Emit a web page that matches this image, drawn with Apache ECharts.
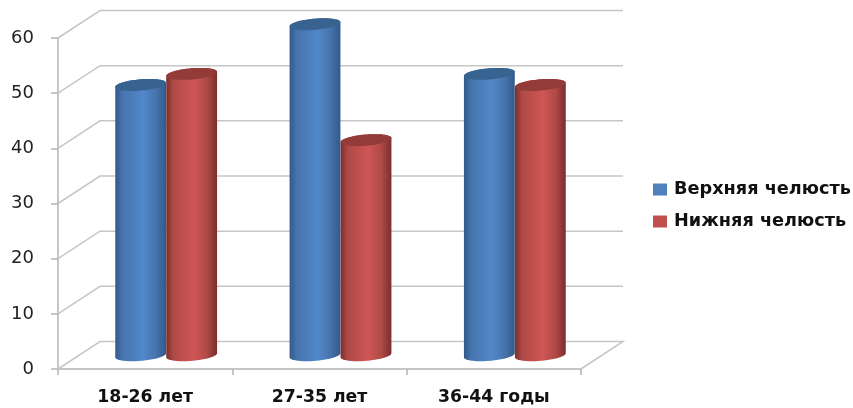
<!DOCTYPE html>
<html><head><meta charset="utf-8">
<style>html,body{margin:0;padding:0;background:#fff}#c{width:853px;height:408px}</style>
<script src="https://cdn.jsdelivr.net/npm/echarts@6/dist/echarts.min.js"></script>
</head><body><div id="c"></div>
<script>
const categories = ['18-26 лет', '27-35 лет', '36-44 годы'];
const upperJaw = [49, 60, 51];
const lowerJaw = [51, 39, 49];
const yTicks = [0, 10, 20, 30, 40, 50, 60];
const seriesNames = ['Верхняя челюсть', 'Нижняя челюсть'];

// 3D look
const DX = 42, DY = 27.5, HALF = 25.5, MINOR = 5.6, TILT = 4.8 * Math.PI / 180, STEPS = 48;

function wallItem(params, api) {
  const v = api.value(1);
  const cs = params.coordSys;
  const y = api.coord([0, v])[1];
  const x0 = cs.x, x1 = cs.x + cs.width;
  const pts = [[x0, y], [x0 + DX, y - DY], [x1 + DX, y - DY]];
  if (v === 0) pts.push([x1, y]);
  return {
    type: 'polyline',
    shape: { points: pts },
    style: { stroke: '#c6c6c6', lineWidth: 1.5, fill: 'none' },
    silent: true
  };
}

// point on the tilted ellipse rim; angle 0 = right, PI = left, PI/2 = front (lower on screen)
function rim(cx, cy, a) {
  const ex = HALF * Math.cos(a), ey = MINOR * Math.sin(a);
  return [cx + ex * Math.cos(TILT) + ey * Math.sin(TILT), cy - ex * Math.sin(TILT) + ey * Math.cos(TILT)];
}

function cylinderItem(side, colors) {
  return function (params, api) {
    const i = api.value(0), v = api.value(1);
    const top = api.coord([i, v]), base = api.coord([i, 0]);
    const cx = top[0] + DX / 2 + side * HALF;
    const ty = top[1] - DY / 2, by = base[1] - DY / 2;
    const body = [], cap = [];
    for (let k = 0; k <= STEPS; k++) body.push(rim(cx, by, Math.PI * k / STEPS));
    for (let k = 0; k <= STEPS; k++) body.push(rim(cx, ty, Math.PI + Math.PI * k / STEPS));
    for (let k = 0; k < 2 * STEPS; k++) cap.push(rim(cx, ty, Math.PI * k / STEPS));
    return {
      type: 'group',
      children: [
        { type: 'polygon', shape: { points: body },
          style: { fill: { type: 'linear', x: 0, y: 0, x2: 1, y2: 0, colorStops: [
            { offset: 0, color: colors.edge }, { offset: 0.14, color: colors.shade },
            { offset: 0.55, color: colors.mid }, { offset: 0.8, color: colors.shade },
            { offset: 1, color: colors.edge }] } } },
        { type: 'polygon', shape: { points: cap }, style: { fill: colors.cap } }
      ]
    };
  };
}

const blue = { edge: '#32598a', shade: '#4674ad', mid: '#5288cb', cap: '#38628f' };
const red = { edge: '#7b2e2c', shade: '#ae4a47', mid: '#cf5654', cap: '#933b39' };

const chart = echarts.init(document.getElementById('c'), null, { renderer: 'canvas' });
chart.setOption({
  animation: false,
  backgroundColor: '#fff',
  grid: { left: 58, right: 272, top: 38, bottom: 39 },
  legend: {
    orient: 'vertical', left: 653, top: 179, padding: 0, itemWidth: 14, itemHeight: 12, itemGap: 11,
    icon: 'rect', data: seriesNames, selectedMode: false,
    textStyle: { fontFamily: 'DejaVu Sans', fontWeight: 'bold', fontSize: 17.7, lineHeight: 21, color: '#111', padding: [0, 0, 0, 2] }
  },
  xAxis: {
    type: 'category', data: categories,
    axisLine: { lineStyle: { color: '#b4b4b4', width: 1.5 } },
    axisTick: { show: true, length: 6, lineStyle: { color: '#b4b4b4', width: 1.5 } },
    axisLabel: { fontFamily: 'DejaVu Sans', fontWeight: 'bold', fontSize: 17.3, color: '#111', margin: 20 }
  },
  yAxis: {
    type: 'value', min: 0, max: 60, interval: 10,
    splitLine: { show: false },
    axisLine: { show: true, lineStyle: { color: '#b4b4b4', width: 1.5 } },
    axisTick: { show: true, length: 7, lineStyle: { color: '#b4b4b4', width: 1.5 } },
    axisLabel: { fontFamily: 'DejaVu Sans', fontSize: 18, color: '#222', margin: 24 }
  },
  series: [
    { type: 'custom', name: 'wall', silent: true, z: 1, renderItem: wallItem,
      data: yTicks.map(v => [0, v]) },
    { type: 'custom', name: seriesNames[0], z: 2, itemStyle: { color: '#4f81bd' },
      renderItem: cylinderItem(-1, blue), data: upperJaw.map((v, i) => [i, v]) },
    { type: 'custom', name: seriesNames[1], z: 3, itemStyle: { color: '#c0504d' },
      renderItem: cylinderItem(1, red), data: lowerJaw.map((v, i) => [i, v]) }
  ]
});
</script></body></html>
